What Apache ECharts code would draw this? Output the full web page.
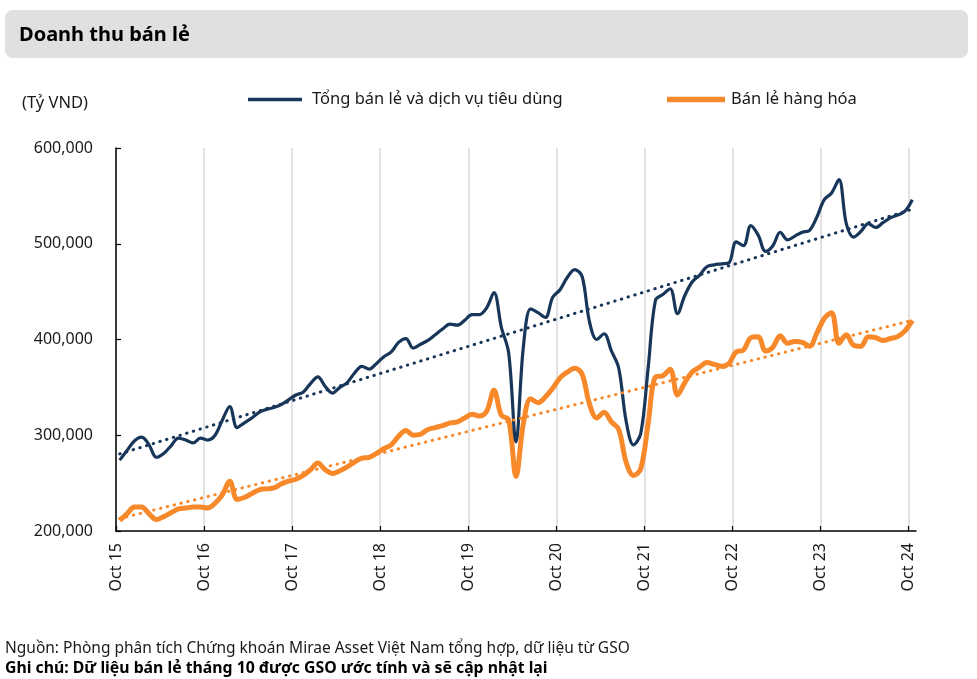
<!DOCTYPE html>
<html>
<head>
<meta charset="utf-8">
<script src="https://cdn.jsdelivr.net/npm/echarts@6/dist/echarts.min.js"></script>
<style>
html,body{margin:0;padding:0;background:#fff;}
#c{width:977px;height:679px;}
</style>
</head>
<body>
<div id="c"></div>
<script>
// X axis tick labels (one every 12 months, Oct 15 .. Oct 24)
const tickLabels = ['Oct 15','Oct 16','Oct 17','Oct 18','Oct 19','Oct 20','Oct 21','Oct 22','Oct 23','Oct 24'];

// Monthly values, Oct 2015 .. Oct 2024 (Tỷ VND)
const totalRetail = [
 274000,284000,294000,298000,290000,277000,281000,289000,297000,295000,
 292000,297000,295000,300000,316000,330000,308000,313000,318000,324000,
 327000,329000,332000,337000,342000,345000,354000,361000,351000,344000,
 350000,355000,365000,372000,369000,375000,382000,387000,397000,401000,
 391000,395000,399000,405000,411000,416000,415000,420000,426000,426000,
 433000,449000,413000,386000,293000,392000,432000,428000,423000,444000,
 452000,465000,473000,466000,419000,400000,406000,388000,370000,315000,
 290000,302000,370000,441000,447000,453000,427000,446000,460000,467000,
 476000,478000,479000,480000,502000,498000,519000,509000,492000,498000,
 512000,504000,508000,512000,514000,528000,546000,553000,567000,521000,
 507000,513000,521000,517000,522000,527000,530000,534000,546000
];
const goodsRetail = [
 211000,218000,225000,225000,218000,212000,215000,219000,223000,224000,
 225000,225000,224000,229000,238000,252000,233000,235000,239000,243000,
 244000,245000,249000,252000,254000,258000,264000,271000,264000,260000,
 263000,267000,272000,276000,277000,281000,286000,290000,299000,305000,
 300000,301000,306000,308000,310000,313000,314000,318000,322000,320000,
 325000,347000,321000,316000,257000,312000,338000,334000,340000,349000,
 360000,366000,370000,364000,333000,318000,324000,314000,306000,272000,
 258000,265000,312000,361000,362000,369000,342000,355000,366000,371000,
 376000,374000,372000,375000,387000,389000,402000,403000,388000,392000,
 404000,396000,398000,397000,393000,407000,422000,428000,396000,405000,
 394000,393000,403000,402000,399000,401000,403000,409000,420000
];
// Linear trend lines: value at first and last month
const totalTrend = [280500, 536000];
const goodsTrend = [213000, 420000];

const seriesNames = ['Tổng bán lẻ và dịch vụ tiêu dùng', 'Bán lẻ hàng hóa'];
const NAVY = '#173659';
const ORANGE = '#f7892a';

function pts(arr){ return arr.map((v,i)=>[i+0.5, v]); }
function trendPts(t, n){ return [[0.5, t[0]], [n-0.5, t[1]]]; }

const chart = echarts.init(document.getElementById('c'), null, {renderer:'canvas'});
const FONT = '"Noto Sans", "Open Sans", sans-serif';
chart.setOption({
  animation:false,
  textStyle:{fontFamily:FONT},
  graphic:[
    {type:'rect', left:5, top:10, shape:{width:963, height:48, r:8}, style:{fill:'#e0e0e0'}, z:0},
    {type:'text', left:19, top:25, style:{text:'Doanh thu bán lẻ', font:'bold 20px '+FONT, fill:'#000'}},
    {type:'text', left:22, top:95, style:{text:'(Tỷ VND)', font:'16.5px '+FONT, fill:'#1a1a1a'}},
    {type:'text', left:5, top:641, style:{text:'Nguồn: Phòng phân tích Chứng khoán Mirae Asset Việt Nam tổng hợp, dữ liệu từ GSO', font:'15.5px '+FONT, fill:'#1a1a1a'}},
    {type:'text', left:5, top:660, style:{text:'Ghi chú: Dữ liệu bán lẻ tháng 10 được GSO ước tính và sẽ cập nhật lại', font:'bold 15.8px '+FONT, fill:'#000'}}
  ],
  legend:[
    {left:248, top:91, padding:0, data:[seriesNames[0]], icon:'rect', itemWidth:54, itemHeight:3.5,
     textStyle:{fontSize:16.5, color:'#1a1a1a', padding:[0,0,0,5]}, selectedMode:false},
    {left:667, top:91, padding:0, data:[seriesNames[1]], icon:'rect', itemWidth:58, itemHeight:5.5,
     textStyle:{fontSize:16.5, color:'#1a1a1a', padding:[0,0,0,1]}, selectedMode:false}
  ],
  grid:{left:116, right:61, top:148, bottom:148, containLabel:false},
  xAxis:{
    type:'value', min:0, max:109, interval:12,
    axisLine:{show:true, lineStyle:{color:'#000', width:1.5}},
    axisTick:{show:true, inside:true, length:5, lineStyle:{color:'#000', width:1.2}},
    axisLabel:{rotate:90, margin:12, fontSize:16, color:'#1a1a1a', showMaxLabel:false,
      formatter:function(v){ return (v % 12 === 0) ? tickLabels[v/12] : ''; }},
    splitLine:{show:true, showMaxLine:false, lineStyle:{color:'#d9d9d9', width:1.5}}
  },
  yAxis:{
    type:'value', min:200000, max:600000, interval:100000,
    axisLine:{show:true, lineStyle:{color:'#000', width:1.5}},
    axisTick:{show:true, inside:true, length:5, lineStyle:{color:'#000', width:1.2}},
    axisLabel:{margin:23, fontSize:16, color:'#1a1a1a',
      formatter:function(v){ return v.toLocaleString('en-US'); }},
    splitLine:{show:false}
  },
  series:[
    {name:seriesNames[0], type:'line', data:pts(totalRetail), showSymbol:false, smooth:0.35,
     lineStyle:{color:NAVY, width:3.2}, itemStyle:{color:NAVY}, z:3},
    {name:seriesNames[1], type:'line', data:pts(goodsRetail), showSymbol:false, smooth:0.35,
     lineStyle:{color:ORANGE, width:5}, itemStyle:{color:ORANGE}, z:2},
    {name:'trend1', type:'line', data:trendPts(totalTrend, totalRetail.length), showSymbol:false,
     lineStyle:{color:NAVY, width:3, type:[0.5,6.5], cap:'round'}, z:4},
    {name:'trend2', type:'line', data:trendPts(goodsTrend, goodsRetail.length), showSymbol:false,
     lineStyle:{color:ORANGE, width:3, type:[0.5,6.5], cap:'round'}, z:4}
  ]
});
</script>
</body>
</html>
